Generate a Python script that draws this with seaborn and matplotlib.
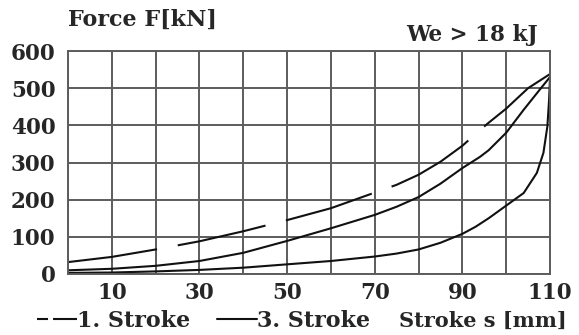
"""Force vs. stroke curves for a buffer element (We > 18 kJ)."""

import matplotlib.pyplot as plt
import seaborn as sns
from matplotlib.lines import Line2D

# stroke s [mm] / force F [kN]
stroke1_s = [0, 10, 20, 30, 40, 50, 60, 70, 75, 80, 85, 90, 94, 96, 100, 105, 110]
stroke1_f = [32, 46, 66, 88, 115, 145, 177, 219, 240, 267, 302, 345, 387, 407, 445, 500, 538]

stroke3_s = [0, 10, 20, 30, 40, 50, 60, 70, 75, 80, 85, 90, 94, 96, 100, 104, 108, 110]
stroke3_f = [10, 14, 22, 35, 57, 89, 123, 159, 181, 207, 243, 285, 315, 333, 380, 442, 501, 530]

lower_s = [0, 10, 20, 30, 40, 50, 60, 70, 75, 80, 85, 90, 93, 96, 100, 104, 107,
           108.5, 109.4, 109.8, 110]
lower_f = [3, 4, 7, 11, 17, 26, 35, 47, 55, 66, 84, 108, 127, 150, 184, 218, 272,
           326, 397, 470, 528]

x_labels = [10, 30, 50, 70, 90, 110]
y_ticks = [0, 100, 200, 300, 400, 500, 600]

sns.set_theme(style="white")
plt.rcParams["font.family"] = ["DejaVu Serif"]
plt.rcParams["font.weight"] = "bold"

fig = plt.figure(figsize=(5.79, 3.35), dpi=100)
ax = fig.add_axes([68 / 579, 1 - 274 / 335, 482 / 579, 223 / 335])

line_kw = dict(color="#111111", lw=1.5, estimator=None, sort=False, legend=False)
sns.lineplot(x=stroke1_s, y=stroke1_f, ax=ax, linestyle=(0, (43.2, 10.1)), **line_kw)
sns.lineplot(x=stroke3_s, y=stroke3_f, ax=ax, **line_kw)
sns.lineplot(x=lower_s, y=lower_f, ax=ax, **line_kw)

ax.set_xlim(0, 110)
ax.set_ylim(0, 600)
ax.set_xticks(x_labels)
ax.set_xticks([v for v in range(0, 111, 10) if v not in x_labels], minor=True)
ax.set_yticks(y_ticks)
ax.grid(True, which="both", color="0.36", lw=1.4)
ax.set_axisbelow(True)
for sp in ax.spines.values():
    sp.set_color("0.36")
    sp.set_linewidth(1.4)
ax.tick_params(axis="both", which="both", length=0, labelsize=15.5)
ax.tick_params(axis="x", pad=6)
ax.tick_params(axis="y", pad=9)
for lab in ax.get_xticklabels() + ax.get_yticklabels():
    lab.set_fontweight("bold")

ax.set_ylabel("Force F[kN]", rotation=0, fontsize=16, fontweight="bold",
              ha="left", va="center")
ax.yaxis.set_label_coords(0.0, (274 - 20) / 223)
ax.set_xlabel("Stroke s [mm]", fontsize=15, fontweight="bold", ha="right", va="center")
ax.xaxis.set_label_coords((567 - 68) / 482, -(321 - 274) / 223)
ax.text((538 - 68) / 482, (274 - 35) / 223, "We > 18 kJ", transform=ax.transAxes,
        ha="right", va="center", fontsize=15.5, fontweight="bold")

handles = [
    Line2D([], [], color="#111111", lw=1.5, linestyle=(0, (5.3, 2.4, 12, 2.4))),
    Line2D([], [], color="#111111", lw=1.5),
]
fig.legend(handles, ["1. Stroke", "3. Stroke"], loc="center left",
           bbox_to_anchor=(37 / 579, 1 - 321 / 335), ncol=2, frameon=False,
           prop={"size": 16, "weight": "bold"}, handlelength=1.8,
           handletextpad=0.0, columnspacing=1.2, borderpad=0, borderaxespad=0)

fig.savefig("out.png", dpi=100)
plt.close(fig)
